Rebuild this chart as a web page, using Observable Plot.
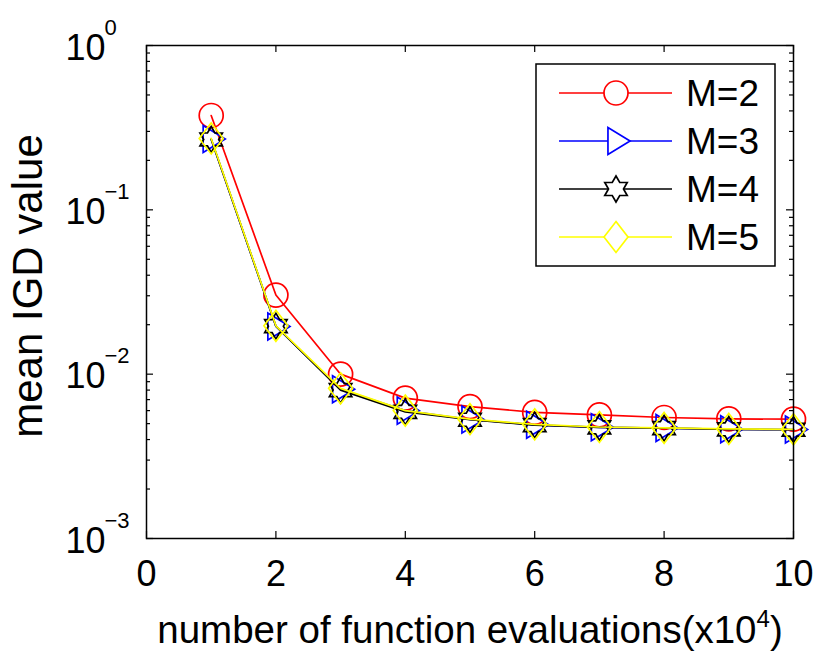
<!DOCTYPE html>
<html><head><meta charset="utf-8">
<script src="https://cdn.jsdelivr.net/npm/d3@7"></script>
<script src="https://cdn.jsdelivr.net/npm/@observablehq/plot@0.6"></script>
<style>
body{margin:0;background:#fff;}
#chart{width:830px;height:653px;position:relative;}
svg{font-family:"Liberation Sans",Arial,Helvetica,sans-serif;}
</style>
</head><body><div id="chart"></div>
<script>
// ---- data ----
const evals = [1, 2, 3, 4, 5, 6, 7, 8, 9, 10];
const igdM2 = [0.375, 0.0303, 0.0100, 0.00715, 0.00635, 0.00585, 0.00565, 0.00545, 0.00535, 0.00532];
const igdM3 = [0.270, 0.0195, 0.0081, 0.0060, 0.00530, 0.00492, 0.00475, 0.00470, 0.00462, 0.00460];
const igdM4 = [0.268, 0.0196, 0.0080, 0.0059, 0.00528, 0.00490, 0.00474, 0.00469, 0.00461, 0.00459];
const igdM5 = [0.272, 0.0197, 0.0082, 0.0060, 0.00532, 0.00495, 0.00477, 0.00471, 0.00464, 0.00462];
const seriesNames = ["M=2", "M=3", "M=4", "M=5"];
const seriesColors = ["#ff0000", "#0000ff", "#000000", "#ffff00"];
const xTicks = [0, 2, 4, 6, 8, 10];
const yMajor = [1e-3, 1e-2, 1e-1, 1];
const yExponents = ["\u22123", "\u22122", "\u22121", "0"];
const yMinor = [0.002,0.003,0.004,0.005,0.006,0.007,0.008,0.009,
                0.02,0.03,0.04,0.05,0.06,0.07,0.08,0.09,
                0.2,0.3,0.4,0.5,0.6,0.7,0.8,0.9];
const xLabel = "number of function evaluations(x10";
const xLabelExp = "4";
const yLabel = "mean IGD value";

// ---- marker shapes ----
const triRight = {draw(ctx, size){const r=Math.sqrt(size/Math.PI);
  ctx.moveTo(1.17*r,0); ctx.lineTo(-0.67*r,-1.125*r); ctx.lineTo(-0.67*r,1.125*r); ctx.closePath();}};
const hexagram = {draw(ctx, size){const r=Math.sqrt(size/Math.PI); const R=1.08*r, q=R/Math.sqrt(3);
  for(let i=0;i<12;i++){const a=-Math.PI/2+i*Math.PI/6; const rr=i%2===0?R:q;
    const x=rr*Math.cos(a), y=rr*Math.sin(a); if(i) ctx.lineTo(x,y); else ctx.moveTo(x,y);} ctx.closePath();}};
const diamond = {draw(ctx, size){const r=Math.sqrt(size/Math.PI);
  ctx.moveTo(0,-1.29*r); ctx.lineTo(r,0); ctx.lineTo(0,1.29*r); ctx.lineTo(-r,0); ctx.closePath();}};
const circle = d3.symbolCircle;
const seriesSymbols = [circle, triRight, hexagram, diamond];
const seriesValues = [igdM2, igdM3, igdM4, igdM5];

const W = 830, H = 653, mL = 146, mR = 37, mT = 45, mB = 115;
const plotW = W - mL - mR, plotH = H - mT - mB;
const FS = 36;

const seriesMarks = seriesNames.flatMap((name, k) => {
  const rows = evals.map((e, i) => ({x: e, y: seriesValues[k][i]}));
  return [
    Plot.line(rows, {x: "x", y: "y", stroke: seriesColors[k], strokeWidth: 1.7}),
    Plot.dot(rows, {x: "x", y: "y", r: 12, symbol: seriesSymbols[k], stroke: seriesColors[k], fill: "none", strokeWidth: 1.7})
  ];
});

const chart = Plot.plot({
  width: W, height: H,
  marginLeft: mL, marginRight: mR, marginTop: mT, marginBottom: mB,
  style: {fontFamily: '"Liberation Sans",Arial,Helvetica,sans-serif', background: "#fff", overflow: "visible"},
  x: {domain: [0, 10], axis: null},
  y: {type: "log", domain: [1e-3, 1], axis: null},
  marks: [
    // inner ticks: left/right (y), bottom/top (x)
    Plot.tickY(yMajor, {y: d => d, insetRight: plotW - 7, stroke: "black", strokeWidth: 1.2}),
    Plot.tickY(yMajor, {y: d => d, insetLeft: plotW - 7, stroke: "black", strokeWidth: 1.2}),
    Plot.tickY(yMinor, {y: d => d, insetRight: plotW - 4, stroke: "black", strokeWidth: 1.2}),
    Plot.tickY(yMinor, {y: d => d, insetLeft: plotW - 4, stroke: "black", strokeWidth: 1.2}),
    Plot.tickX(xTicks, {x: d => d, insetTop: plotH - 7, stroke: "black", strokeWidth: 1.2}),
    Plot.tickX(xTicks, {x: d => d, insetBottom: plotH - 7, stroke: "black", strokeWidth: 1.2}),
    // tick labels
    Plot.text(xTicks, {x: d => d, frameAnchor: "bottom", lineAnchor: "bottom", dy: 47, text: d => String(d), fontSize: FS, fill: "black"}),
    Plot.text(yMajor, {y: d => d, frameAnchor: "left", textAnchor: "start", lineAnchor: "bottom", dx: -81, dy: 14, text: () => "10", fontSize: FS, fill: "black"}),
    Plot.text(yMajor, {y: d => d, frameAnchor: "left", textAnchor: "start", lineAnchor: "bottom", dx: -42, dy: -11, text: (d, i) => yExponents[i], fontSize: 22, fill: "black"}),
    // axis labels
    Plot.text([xLabel], {frameAnchor: "bottom", textAnchor: "middle", lineAnchor: "bottom", dy: 104, text: d => d, fontSize: 38.5, fill: "black", className: "xlab"}),
    Plot.text([yLabel], {frameAnchor: "left", textAnchor: "middle", dx: -118, dy: -6, rotate: -90, text: d => d, fontSize: 42, fill: "black"}),
    ...seriesMarks,
    Plot.frame({stroke: "black", strokeWidth: 1.5})
  ]
});

document.getElementById("chart").appendChild(chart);

// superscript on x label
const xt = chart.querySelector(".xlab text");
if (xt) {
  xt.textContent = xLabel;
  const ns = "http://www.w3.org/2000/svg";
  const s1 = document.createElementNS(ns, "tspan");
  s1.setAttribute("font-size", 24); s1.setAttribute("dy", -16); s1.textContent = xLabelExp;
  const s2 = document.createElementNS(ns, "tspan");
  s2.setAttribute("dy", 16); s2.textContent = ")";
  xt.appendChild(s1); xt.appendChild(s2);
}

// legend (drawn into the same svg)
const svg = d3.select(chart);
const lg = svg.append("g").attr("class", "legend");
const box = {x0: 536, y0: 64, x1: 775, y1: 266};
lg.append("rect").attr("x", box.x0).attr("y", box.y0).attr("width", box.x1 - box.x0).attr("height", box.y1 - box.y0)
  .attr("fill", "white").attr("stroke", "black").attr("stroke-width", 1.5);
seriesNames.forEach((name, k) => {
  const cy = 93 + k * 48;
  lg.append("line").attr("x1", 559).attr("x2", 672).attr("y1", cy).attr("y2", cy)
    .attr("stroke", seriesColors[k]).attr("stroke-width", 1.7);
  lg.append("path").attr("d", d3.symbol(seriesSymbols[k], Math.PI * 144)())
    .attr("transform", `translate(616,${cy})`).attr("fill", "white").attr("stroke", seriesColors[k]).attr("stroke-width", 1.7);
  lg.append("text").attr("x", 686).attr("y", cy).attr("dy", "0.36em").attr("text-anchor", "start")
    .attr("font-size", 37).attr("fill", "black").text(name);
});
</script>
</body></html>
